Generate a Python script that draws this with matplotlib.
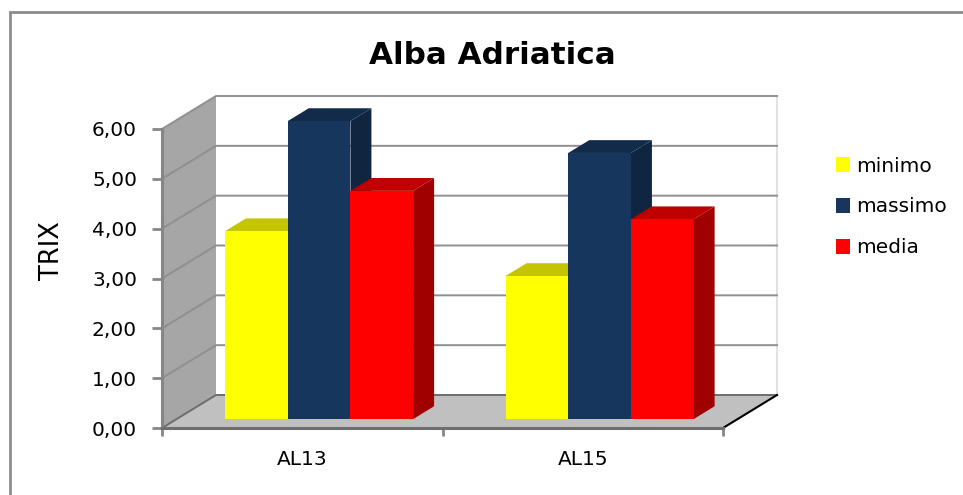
import matplotlib
matplotlib.use("Agg")
import matplotlib.pyplot as plt
from matplotlib.patches import Polygon, Patch, Rectangle

# data
stations = ["AL13", "AL15"]
minimo = [3.77, 2.87]
massimo = [5.98, 5.34]
media = [4.58, 4.01]
yticks = [0, 1, 2, 3, 4, 5, 6]
yticklabels = ["0,00", "1,00", "2,00", "3,00", "4,00", "5,00", "6,00"]
series_names = ["minimo", "massimo", "media"]

# front colour, top colour, side colour
styles = [("#ffff00", "#c4c400", "#a3a300"),
          ("#17365d", "#122b4a", "#0f2540"),
          ("#ff0000", "#bf0000", "#a00000")]

W, H = 963, 495
fig = plt.figure(figsize=(W / 100, H / 100), dpi=100, facecolor="white")

# outer chart frame
fig.add_artist(Rectangle((10 / W, -0.02), 1.02, (H - 12) / H + 0.02, transform=fig.transFigure,
                         fill=False, edgecolor="#8c8c8c", linewidth=2))

ax = fig.add_axes([162 / W, (H - 428) / H, 561 / W, 299 / H])
ax.set_xlim(0, 2)
ax.set_ylim(0, 6)
ax.patch.set_visible(False)

# depth of the 3d box in data units (pixel size 54 x 33)
DX = 54 / 561 * 2
DY = 33 / 299 * 6


def proj(x, v, d):
    return (x + d * DX, v + d * DY)


def face(points, color, z):
    ax.add_patch(Polygon([proj(*p) for p in points], closed=True, facecolor=color,
                         edgecolor="none", linewidth=0, clip_on=False, zorder=z))


# back wall, left wall, floor
face([(0, 0, 1), (2, 0, 1), (2, 6, 1), (0, 6, 1)], "white", 1)
face([(0, 0, 0), (0, 0, 1), (0, 6, 1), (0, 6, 0)], "#a6a6a6", 1)
face([(0, 0, 0), (2, 0, 0), (2, 0, 1), (0, 0, 1)], "#c0c0c0", 1.5)

for t in yticks:
    a = proj(0, t, 0)
    b = proj(0, t, 1)
    c = proj(2, t, 1)
    col = "#6e6e6e" if t == 0 else "#8f8f8f"
    ax.plot([a[0], b[0], c[0]], [a[1], b[1], c[1]], color=col, lw=1.4, clip_on=False, zorder=2)

# right edge of the back wall and front edge of the floor
r0, r1 = proj(2, 0, 1), proj(2, 6, 1)
ax.plot([r0[0], r1[0]], [r0[1], r1[1]], color="#e2e2e2", lw=1.5, clip_on=False, zorder=1.2)
f0 = proj(2, 0, 0)
ax.plot([f0[0], r0[0]], [f0[1], r0[1]], color="black", lw=1.5, clip_on=False, zorder=2)

# bars, drawn left to right so each one covers the side of the one before
bar_w = 0.2235
d0, d1 = 0.27, 0.27 + 21 / 54
shift = 0.008
z = 3
for i in range(len(stations)):
    for j, vals in enumerate([minimo, massimo, media]):
        x0 = i + 0.5 + shift + (j - 1.5) * bar_w
        x1 = x0 + bar_w
        v = vals[i]
        front, top, side = styles[j]
        face([(x1, 0, d0), (x1, 0, d1), (x1, v, d1), (x1, v, d0)], side, z)
        face([(x0, v, d0), (x1, v, d0), (x1, v, d1), (x0, v, d1)], top, z)
        face([(x0, 0, d0), (x1, 0, d0), (x1, v, d0), (x0, v, d0)], front, z)
        z += 0.1

for s in ["top", "right"]:
    ax.spines[s].set_visible(False)
ax.spines["left"].set(color="#868686", linewidth=2.2, zorder=2.5)
ax.spines["bottom"].set(color="#6e6e6e", linewidth=2.2, zorder=2.5)

ax.set_yticks(yticks)
ax.set_yticklabels(yticklabels, fontsize=14.5)
ax.tick_params(axis="y", length=7, width=2, color="#868686", pad=11, labelcolor="black")
ax.set_xticks([0, 1, 2])
ax.set_xticklabels([])
ax.set_xticks([0.5, 1.5], minor=True)
ax.set_xticklabels(stations, minor=True, fontsize=14.5)
ax.tick_params(axis="x", which="major", length=5.5, width=2, color="#868686")
ax.tick_params(axis="x", which="minor", length=0, pad=15.5, labelcolor="black")

ax.set_ylabel("TRIX", fontsize=18.5, labelpad=19)
ax.yaxis.label.set_position((0, 0.595))

fig.text(492 / W, (H - 55) / H, "Alba Adriatica", fontsize=22.3, fontweight="bold",
         ha="center", va="center")

handles = [Patch(facecolor=styles[k][0], edgecolor="none") for k in range(3)]
fig.legend(handles, series_names, loc="center left", bbox_to_anchor=(818 / W, (H - 207) / H),
           frameon=False, fontsize=14.5, handlelength=0.7, handleheight=0.75,
           handletextpad=0.3, labelspacing=1.08)

fig.savefig("out.png", dpi=100)
